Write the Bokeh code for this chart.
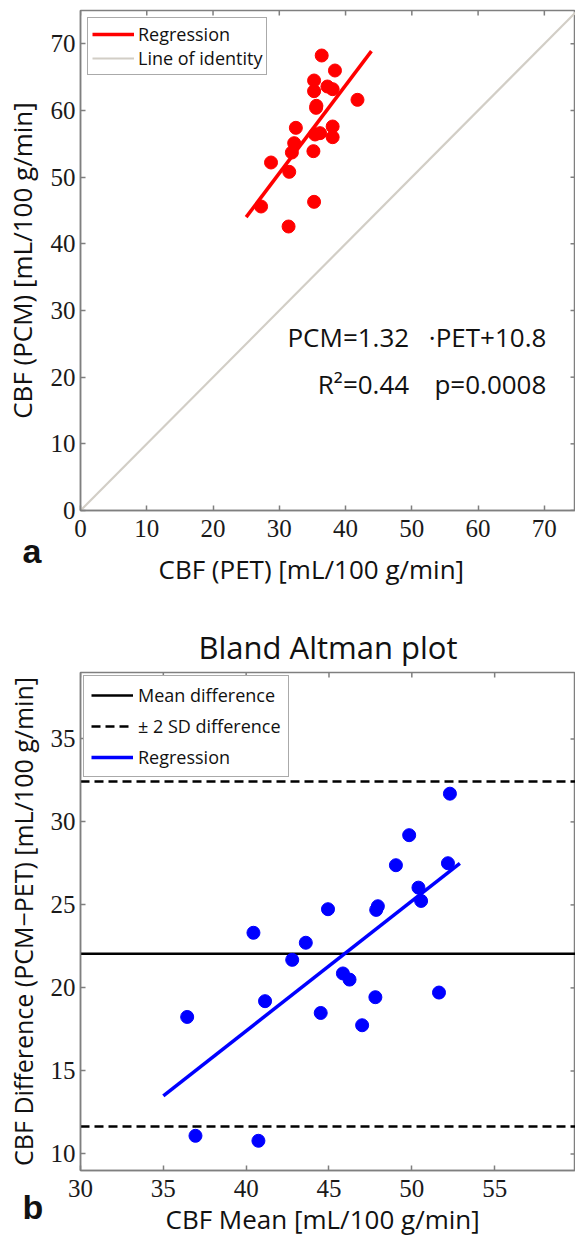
from bokeh.plotting import figure
from bokeh.models import Range1d, FixedTicker, Legend, LegendItem, Title
from bokeh.layouts import column
from bokeh.embed import file_html
from bokeh.resources import INLINE
from bokeh.core.properties import value

# ---------------- Panel a: PCM vs PET ----------------
pet = [36.4, 38.4, 35.25, 35.25, 37.26, 38.05, 41.8, 35.55, 35.6, 32.5, 38.05,
       35.4, 36.15, 38.05, 32.25, 31.9, 35.15, 28.75, 31.5, 27.25, 35.25, 31.4]
pcm = [68.25, 66.0, 64.5, 62.9, 63.6, 63.2, 61.6, 60.4, 60.7, 57.4, 57.6,
       56.4, 56.6, 56.0, 55.1, 53.7, 53.9, 52.2, 50.8, 45.6, 46.3, 42.6]
reg_a_x = [25.0, 43.9]
reg_a_y = [44.0, 68.9]
identity = [0, 75]
a_ticks = [0, 10, 20, 30, 40, 50, 60, 70]
a_xlim = (0, 74.7)
a_ylim = (0, 75)

# ---------------- Panel b: Bland Altman ----------------
ba_mean = [36.44, 36.94, 40.74, 40.44, 41.14, 42.78, 43.6, 44.5, 45.84, 46.24, 47.8,
           47.0, 51.64, 52.3, 49.84, 49.04, 52.18, 50.4, 50.56, 44.94, 47.95, 47.85]
ba_diff = [18.25, 11.09, 10.79, 23.32, 19.2, 21.69, 22.72, 18.49, 20.87, 20.5, 19.44,
           17.75, 19.72, 31.7, 29.2, 27.39, 27.51, 26.04, 25.24, 24.74, 24.92, 24.7]
mean_diff = 22.05
sd_upper = 32.44
sd_lower = 11.65
reg_b_x = [35.0, 52.9]
reg_b_y = [13.5, 27.5]
b_xticks = [30, 35, 40, 45, 50, 55, 60]
b_yticks = [10, 15, 20, 25, 30, 35]
b_xlim = (30, 59.88)
b_ylim = (9, 39)

AX = "#7f7f7f"
LABEL_FONT = "Open Sans"
TICK_FONT = "Liberation Serif"
TXT = "#111111"
W = 575
TICK_PX = 5


def style(p, xticks, yticks, xlim, ylim, frame_w, frame_h, ylabel, ylabel_size):
    p.outline_line_color = AX
    p.outline_line_width = 1.5
    p.xgrid.visible = False
    p.ygrid.visible = False
    for ax in p.xaxis + p.yaxis:
        ax.axis_line_color = AX
        ax.axis_line_width = 1.5
        ax.major_tick_line_color = AX
        ax.major_tick_line_width = 1.5
        ax.major_tick_in = TICK_PX
        ax.major_tick_out = 0
        ax.minor_tick_line_color = None
        ax.major_label_text_font = TICK_FONT
        ax.major_label_text_font_size = "25px"
        ax.major_label_text_color = "#1a1a1a"
    p.xaxis.ticker = FixedTicker(ticks=xticks)
    p.yaxis.ticker = FixedTicker(ticks=yticks)
    p.xaxis.major_label_standoff = 9
    p.yaxis.major_label_standoff = 5
    p.yaxis.axis_label = ylabel
    p.yaxis.axis_label_standoff = 8
    p.yaxis.axis_label_text_font = LABEL_FONT
    p.yaxis.axis_label_text_font_size = ylabel_size
    p.yaxis.axis_label_text_font_style = "normal"
    p.yaxis.axis_label_text_color = TXT
    # inward ticks on the top and right edges of the box
    ty = TICK_PX * (ylim[1] - ylim[0]) / frame_h
    tx = TICK_PX * (xlim[1] - xlim[0]) / frame_w
    p.segment(x0=xticks, y0=[ylim[1]] * len(xticks), x1=xticks, y1=[ylim[1] - ty] * len(xticks),
              line_color=AX, line_width=1.5)
    p.segment(x0=[xlim[1]] * len(yticks), y0=yticks, x1=[xlim[1] - tx] * len(yticks), y1=yticks,
              line_color=AX, line_width=1.5)


def add_bottom_texts(p, letter, letter_standoff, xlabel, xlabel_offset, xlabel_standoff):
    p.add_layout(Title(text=letter, align="left", offset=-58, standoff=letter_standoff,
                       vertical_align="top", text_font="Liberation Sans",
                       text_font_style="bold", text_font_size="34px", text_color=TXT), "below")
    p.add_layout(Title(text=xlabel, align="left", offset=xlabel_offset, standoff=xlabel_standoff,
                       vertical_align="top", text_font=LABEL_FONT, text_font_style="normal",
                       text_font_size="26px", text_color=TXT), "below")


# ---------- figure a ----------
pa = figure(width=W, height=600, x_range=Range1d(*a_xlim), y_range=Range1d(*a_ylim),
            output_backend="svg", toolbar_location=None,
            min_border_left=77, min_border_right=0, min_border_top=10, min_border_bottom=90)
style(pa, a_ticks, a_ticks, a_xlim, a_ylim, 498, 500, "CBF (PCM) [mL/100 g/min]", "26px")

r_id = pa.line(identity, identity, line_color="#d2cec6", line_width=2.2)
pa.scatter(pet, pcm, size=13, fill_color="#ff0000", line_color="#ff0000")
r_reg = pa.line(reg_a_x, reg_a_y, line_color="#ff0000", line_width=3.5)

pa.text(x=[49.6, 70.3], y=[26.0, 26.0], text=["PCM=1.32", "\u00b7PET+10.8"],
        text_align="right", text_baseline="middle", text_font=value(LABEL_FONT),
        text_font_size="26px", text_color=TXT)
pa.text(x=[49.6, 70.3], y=[19.05, 19.05], text=["R\u00b2=0.44", "p=0.0008"],
        text_align="right", text_baseline="middle", text_font=value(LABEL_FONT),
        text_font_size="26px", text_color=TXT)

leg_a = Legend(items=[LegendItem(label="Regression", renderers=[r_reg]),
                      LegendItem(label="Line of identity", renderers=[r_id])],
               location="top_left", margin=7, padding=4, spacing=0,
               label_height=20, glyph_height=20, glyph_width=42, label_standoff=4,
               label_text_font=LABEL_FONT, label_text_font_size="18px",
               label_text_color=TXT, border_line_color="#555555",
               border_line_width=1.2, background_fill_color="white", background_fill_alpha=1)
pa.add_layout(leg_a)
add_bottom_texts(pa, "a", -16, "CBF (PET) [mL/100 g/min]", 78, -26)

# ---------- figure b ----------
pb = figure(width=W, height=639, x_range=Range1d(*b_xlim), y_range=Range1d(*b_ylim),
            output_backend="svg", toolbar_location=None,
            min_border_left=77, min_border_right=0, min_border_top=72, min_border_bottom=69,
            title="Bland Altman plot")
pb.title.text_font = LABEL_FONT
pb.title.text_font_size = "31px"
pb.title.text_font_style = "normal"
pb.title.align = "center"
pb.title.standoff = 10
pb.title.text_color = TXT
style(pb, b_xticks, b_yticks, b_xlim, b_ylim, 498, 498,
      "CBF Difference (PCM\u2212PET) [mL/100 g/min]", "25px")

r_mean = pb.line(list(b_xlim), [mean_diff, mean_diff], line_color="black", line_width=2.5)
r_sd = pb.line(list(b_xlim), [sd_upper, sd_upper], line_color="black", line_width=2.5,
               line_dash="9 5")
pb.line(list(b_xlim), [sd_lower, sd_lower], line_color="black", line_width=2.5, line_dash="9 5")
pb.scatter(ba_mean, ba_diff, size=13, fill_color="#0000ff", line_color="#0000ff")
r_regb = pb.line(reg_b_x, reg_b_y, line_color="#0000ff", line_width=3.5)

leg_b = Legend(items=[LegendItem(label="Mean difference", renderers=[r_mean]),
                      LegendItem(label="\u00b1 2 SD difference", renderers=[r_sd]),
                      LegendItem(label="Regression", renderers=[r_regb])],
               location="top_left", margin=3, padding=7, spacing=7,
               label_height=24, glyph_height=24, glyph_width=42, label_standoff=5,
               label_text_font=LABEL_FONT, label_text_font_size="18px",
               label_text_color=TXT, border_line_color="#555555",
               border_line_width=1.2, background_fill_color="white", background_fill_alpha=1)
pb.add_layout(leg_b)
add_bottom_texts(pb, "b", -24, "CBF Mean [mL/100 g/min]", 85, -30)

layout = column(pa, pb, spacing=0)
open("out.html", "w").write(file_html(layout, INLINE))
